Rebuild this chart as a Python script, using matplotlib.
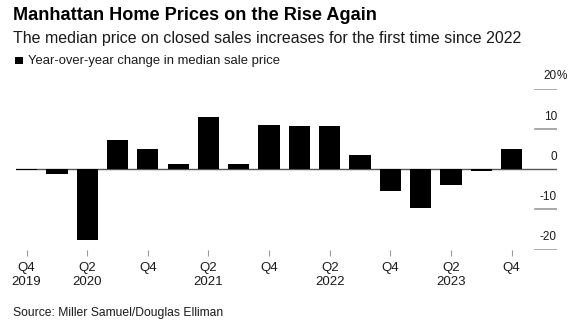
import matplotlib
matplotlib.use("Agg")
import matplotlib.pyplot as plt
import matplotlib.transforms as mtransforms
from matplotlib.patches import Rectangle

plt.rcParams['font.family'] = ['Liberation Sans', 'DejaVu Sans']

# ---- data ----
quarters = ["Q4 2019", "Q1 2020", "Q2 2020", "Q3 2020", "Q4 2020",
            "Q1 2021", "Q2 2021", "Q3 2021", "Q4 2021",
            "Q1 2022", "Q2 2022", "Q3 2022", "Q4 2022",
            "Q1 2023", "Q2 2023", "Q3 2023", "Q4 2023"]
yoy_change = [-0.3, -1.3, -17.6, 7.3, 5.0, 1.3, 13.0, 1.3, 11.0,
              10.7, 10.6, 3.6, -5.5, -9.6, -3.9, -0.4, 5.0]
xtick_positions = [0, 2, 4, 6, 8, 10, 12, 14, 16]
xtick_labels = ["Q4\n2019", "Q2\n2020", "Q4", "Q2\n2021", "Q4",
                "Q2\n2022", "Q4", "Q2\n2023", "Q4"]
ytick_values = [20, 10, 0, -10, -20]
ytick_labels = ["20", "10", "0", "-10", "-20"]

title = "Manhattan Home Prices on the Rise Again"
subtitle = "The median price on closed sales increases for the first time since 2022"
legend_label = "Year-over-year change in median sale price"
source = "Source: Miller Samuel/Douglas Elliman"

W, H = 583, 332
fig = plt.figure(figsize=(W / 100, H / 100), dpi=100)

ax_left, ax_right = 16, 557
ax_top, ax_bottom = 88.5, 249.5
ax = fig.add_axes([ax_left / W, 1 - ax_bottom / H,
                   (ax_right - ax_left) / W, (ax_bottom - ax_top) / H])

x = list(range(len(quarters)))
ax.axhline(0, color="#555555", lw=1.0, zorder=1)
ax.bar(x, yoy_change, width=0.7, color="black", zorder=2)

ax.set_xlim(-0.35, 17.5)
ax.set_ylim(-20, 20)

for s in ax.spines.values():
    s.set_visible(False)

# short gridline segments on the right
seg_start = (535 - ax_left) / (ax_right - ax_left)
for v in ytick_values:
    if v != 0:
        ax.axhline(v, xmin=seg_start, xmax=1.0, color="#999999", lw=1.2, zorder=1)

# y labels above segments
trans = mtransforms.blended_transform_factory(ax.transAxes, ax.transData)
trans_off = mtransforms.offset_copy(trans, fig=fig, x=0, y=6.5, units='points')
for v, lab in zip(ytick_values, ytick_labels):
    ax.text(1.0, v, lab, transform=trans_off, ha='right', va='baseline',
            fontsize=8.5, color="#1a1a1a", clip_on=False)
    if v == ytick_values[0]:
        ax.text(1.0, v, "%", transform=trans_off, ha='left', va='baseline',
                fontsize=8.5, color="#1a1a1a", clip_on=False)

ax.set_yticks([])
ax.set_xticks(xtick_positions)
ax.set_xticklabels(xtick_labels, fontsize=9.5, color="#1a1a1a", linespacing=1.25)
ax.tick_params(axis='x', length=4.5, width=0.8, color="#999999", pad=4.5,
               direction='out')

# header texts
fig.text(13 / W, 1 - 20 / H, title, fontsize=13.1, fontweight='bold',
         color="black", va='baseline', ha='left')
fig.text(13 / W, 1 - 42.7 / H, subtitle, fontsize=11.5, color="#1a1a1a",
         va='baseline', ha='left')
fig.patches.append(Rectangle((15 / W, 1 - 64.3 / H), 7.5 / W, 7.5 / H,
                             transform=fig.transFigure, facecolor='black',
                             edgecolor='none'))
fig.text(28 / W, 1 - 64.3 / H, legend_label, fontsize=9.4, color="#1a1a1a",
         va='baseline', ha='left')
fig.text(13 / W, 1 - 316 / H, source, fontsize=8.7, color="#1a1a1a",
         va='baseline', ha='left')

fig.savefig("out.png", dpi=100, facecolor='white')
